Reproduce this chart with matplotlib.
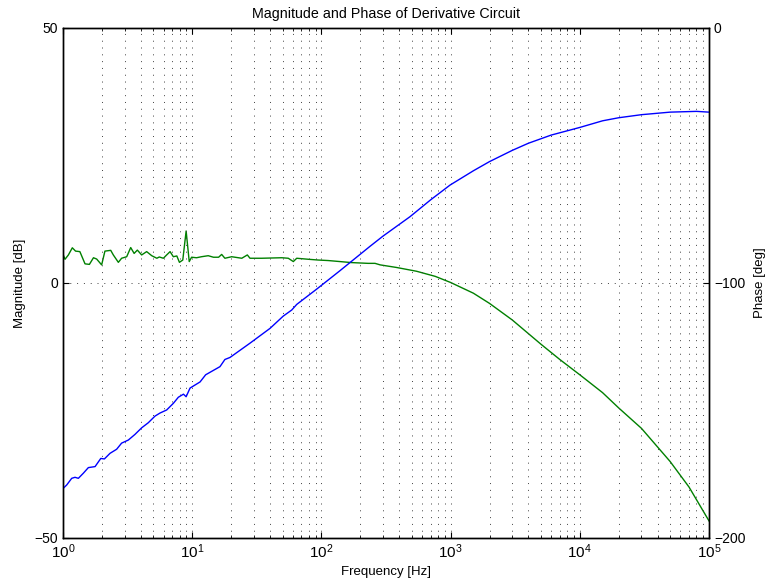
import matplotlib
matplotlib.use("Agg")
import matplotlib.pyplot as plt

# === DATA ===

mag_freq = [1.0, 1.068, 1.167, 1.238, 1.314, 1.436, 1.57, 1.77, 1.96, 2.09,
            2.31, 2.60, 2.84, 3.20, 3.60, 4.06, 4.57, 5.15, 5.63, 6.34,
            7.14, 7.81, 8.55, 8.97, 9.62, 11.5, 12.7, 16.4, 17.9, 19.6,
            28.0, 40.0, 50.6, 58.9, 64.4, 91.9, 139, 238, 300, 485,
            700, 990, 1500, 2000, 3000, 4000, 6000, 10000, 15000, 20000,
            30000, 50000, 80000, 100000]
mag_db = [-40.3, -39.6, -38.3, -38.1, -38.3, -37.3, -36.2, -36.0, -34.4, -34.5,
          -33.4, -32.6, -31.4, -30.8, -29.7, -28.4, -27.4, -26.1, -25.5, -24.9,
          -23.6, -22.4, -21.8, -22.3, -20.6, -19.4, -18.0, -16.4, -15.0, -14.6,
          -11.8, -8.9, -6.5, -5.3, -4.2, -1.2, 2.4, 7.2, 9.2, 13.0,
          16.3, 19.2, 22.0, 23.8, 26.0, 27.4, 29.0, 30.5, 31.8, 32.4,
          33.0, 33.5, 33.65, 33.5]

phase_freq = [1.0, 1.036, 1.10, 1.18, 1.25, 1.35, 1.48, 1.60, 1.72, 1.82,
              1.99, 2.11, 2.34, 2.45, 2.68, 2.84, 3.11, 3.34, 3.55, 3.76,
              4.06, 4.44, 4.86, 5.32, 5.56, 5.98, 6.34, 6.74, 7.14, 7.60,
              7.96, 8.45, 8.97, 9.48, 9.89, 10.8, 11.8, 13.3, 14.6, 16.0,
              16.9, 17.9, 20.2, 24.2, 26.7, 28.0, 34.5, 49.3, 55.4, 60.6,
              64.4, 79.2, 94.5, 113, 171, 230, 260, 285, 380, 545,
              760, 1000, 1500, 2000, 3000, 5000, 7000, 10000, 15000, 20000,
              30000, 50000, 70000, 100000]
phase_deg = [-88.8, -90.7, -89.0, -86.2, -87.5, -87.7, -92.5, -92.7, -90.1, -90.6,
             -92.9, -87.5, -87.2, -89.0, -91.9, -90.3, -89.7, -86.1, -88.4, -87.1,
             -89.0, -87.7, -89.3, -90.3, -89.8, -90.3, -89.0, -87.7, -89.7, -89.4,
             -91.9, -91.0, -79.6, -91.6, -89.9, -90.1, -89.7, -89.3, -89.9, -89.9,
             -88.8, -90.3, -89.7, -90.3, -89.0, -90.3, -90.3, -90.1, -90.3, -91.6,
             -90.3, -90.7, -91.0, -91.2, -92.0, -92.3, -92.3, -92.9, -93.9, -95.4,
             -97.4, -99.8, -104.0, -108.0, -114.5, -124.0, -130.0, -136.0, -143.0, -149.0,
             -157.0, -170.0, -180.0, -193.3]

x_ticks = [1, 10, 100, 1000, 10000, 100000]
x_tick_labels = [r"$10^{0}$", r"$10^{1}$", r"$10^{2}$", r"$10^{3}$", r"$10^{4}$", r"$10^{5}$"]
mag_ticks = [-50, 0, 50]
phase_ticks = [-200, -100, 0]

# === STYLE ===

plt.rcParams["font.family"] = ["Liberation Sans", "DejaVu Sans"]
plt.rcParams["font.size"] = 9
plt.rcParams["mathtext.fontset"] = "custom"
plt.rcParams["mathtext.rm"] = "Liberation Sans"
plt.rcParams["mathtext.it"] = "Liberation Sans"

GRID_STYLE = dict(color="0.25", linestyle=(0, (1, 6)), linewidth=0.7)

fig = plt.figure(figsize=(7.65, 5.83), dpi=100)
ax = fig.add_axes([0.0824, 0.0772, 0.8444, 0.8748])
ax2 = ax.twinx()

# magnitude (left axis)
ax.semilogx(mag_freq, mag_db, color=(0, 0, 1), linewidth=1.0)
ax.set_xlim(1, 1e5)
ax.set_ylim(-50, 50)
ax.set_yticks(mag_ticks)
ax.set_xticks(x_ticks)
ax.set_xticklabels(x_tick_labels, fontsize=11)
ax.tick_params(axis="y", labelsize=10)
ax.set_xlabel("Frequency [Hz]", fontsize=9.5, labelpad=3)
ax.set_ylabel("Magnitude [dB]", fontsize=9.5, labelpad=6)
ax.set_title("Magnitude and Phase of Derivative Circuit", fontsize=10.3, pad=7)
ax.grid(True, which="both", axis="x", **GRID_STYLE)
ax.grid(True, which="major", axis="y", **GRID_STYLE)
ax.tick_params(which="both", direction="in", top=True, right=False, length=4)
ax.tick_params(which="minor", length=2.5)

# phase (right axis)
ax2.semilogx(phase_freq, phase_deg, color=(0, 0.5, 0), linewidth=1.0)
ax2.set_ylim(-200, 0)
ax2.set_yticks(phase_ticks)
ax2.set_ylabel("Phase [deg]", fontsize=9.5, labelpad=6)
ax2.tick_params(direction="in", length=4, labelsize=10)

# keep blue line on top of green
ax.set_zorder(ax2.get_zorder() + 1)
ax.patch.set_visible(False)

for a in (ax, ax2):
    for s in a.spines.values():
        s.set_linewidth(1.0)

fig.savefig("out.png", dpi=100)
